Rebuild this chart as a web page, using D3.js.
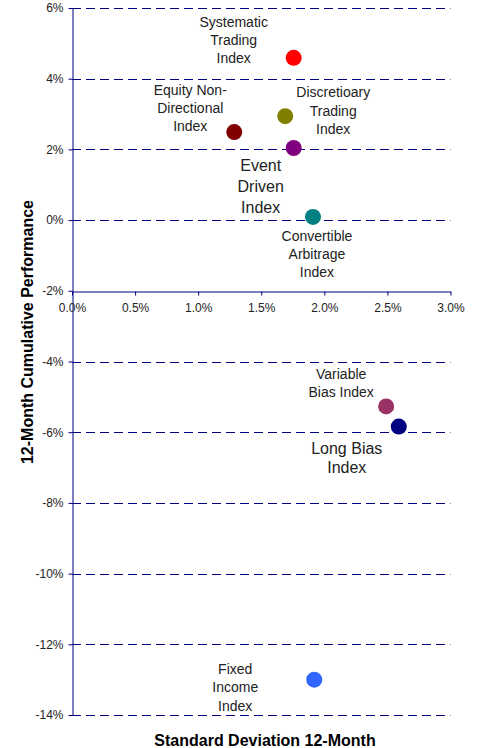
<!DOCTYPE html>
<html>
<head>
<meta charset="utf-8">
<script src="https://cdn.jsdelivr.net/npm/d3@7"></script>
<style>
  html, body { margin: 0; padding: 0; background: #fff; }
  svg { display: block; font-family: "Liberation Sans", Arial, sans-serif; }
</style>
</head>
<body>
<svg id="chart" width="479" height="748"></svg>
<script>
// ---- data ----
const names = [
  ["Systematic", "Trading", "Index"],
  ["Discretioary", "Trading", "Index"],
  ["Equity Non-", "Directional", "Index"],
  ["Event", "Driven", "Index"],
  ["Convertible", "Arbitrage", "Index"],
  ["Variable", "Bias Index"],
  ["Long Bias", "Index"],
  ["Fixed", "Income", "Index"]
];
const stdDev = [0.01757, 0.0169, 0.01286, 0.01757, 0.0191, 0.0249, 0.0259, 0.0192];
const perf = [0.0459, 0.0294, 0.0249, 0.0204, 0.0009, -0.0527, -0.0584, -0.1300];
const colors = ["#FF0000", "#808000", "#800000", "#800080", "#008080", "#993366", "#000080", "#3366FF"];
const yTicks = [-0.14, -0.12, -0.10, -0.08, -0.06, -0.04, -0.02, 0, 0.02, 0.04, 0.06];
const xTicks = [0, 0.005, 0.01, 0.015, 0.02, 0.025, 0.03];

// ---- layout (label placement relative to each point, in px) ----
const labelLayout = [
  { dx: -60, dy: -36, size: 14, lh: 18 },
  { dx: 48, dy: -24, size: 14, lh: 18.5 },
  { dx: -44, dy: -42, size: 14, lh: 18 },
  { dx: -33, dy: 17, size: 16, lh: 21 },
  { dx: 4, dy: 19, size: 14, lh: 18 },
  { dx: -45, dy: -32, size: 14, lh: 18 },
  { dx: -52, dy: 22, size: 16, lh: 19 },
  { dx: -79, dy: -11, size: 14, lh: 18.8 }
];

const svg = d3.select("#chart");
const x = d3.scaleLinear().domain([0, 0.03]).range([72, 450.5]);
const y = d3.scaleLinear().domain([-0.14, 0.06]).range([715, 8]);
const navy = "#000080";
const hy = f => s => f(s).replace("\u2212", "-");

// gridlines
svg.append("g").selectAll("line")
  .data(yTicks.filter(t => Math.abs(t + 0.02) > 1e-9))
  .join("line")
  .attr("x1", x(0)).attr("x2", x(0.03))
  .attr("y1", d => Math.round(y(d)) + 0.5).attr("y2", d => Math.round(y(d)) + 0.5)
  .attr("stroke", navy).attr("stroke-width", 1)
  .attr("stroke-dasharray", "9,5");

// y axis
const yAxis = svg.append("g")
  .attr("transform", `translate(${Math.round(x(0)) + 0.5},0)`)
  .call(d3.axisLeft(y).tickValues(yTicks).tickSize(4).tickSizeOuter(0).tickPadding(5)
    .tickFormat(hy(d3.format(".0%"))));
yAxis.select(".domain").attr("stroke", navy);
yAxis.selectAll(".tick line").attr("stroke", navy);
yAxis.selectAll(".tick text").attr("font-size", 12).attr("fill", "#222")
  .attr("font-family", "Liberation Sans, Arial, sans-serif");

// x axis at -2%
const xAxis = svg.append("g")
  .attr("transform", `translate(0,${Math.round(y(-0.02)) + 0.5})`)
  .call(d3.axisBottom(x).tickValues(xTicks).tickSize(4).tickSizeOuter(0).tickPadding(8)
    .tickFormat(hy(d3.format(".1%"))));
xAxis.select(".domain").attr("stroke", navy);
xAxis.selectAll(".tick line").attr("stroke", navy);
xAxis.selectAll(".tick text").attr("font-size", 12).attr("fill", "#222")
  .attr("font-family", "Liberation Sans, Arial, sans-serif");

// points
const idx = d3.range(names.length);
svg.append("g").selectAll("circle")
  .data(idx).join("circle")
  .attr("cx", i => x(stdDev[i]))
  .attr("cy", i => y(perf[i]))
  .attr("r", 8)
  .attr("fill", i => colors[i]);

// labels
const lg = svg.append("g");
idx.forEach(i => {
  const L = labelLayout[i];
  const cx = x(stdDev[i]) + L.dx;
  const cy = y(perf[i]) + L.dy;
  const t = lg.append("text")
    .attr("text-anchor", "middle")
    .attr("font-size", L.size)
    .attr("fill", "#222");
  names[i].forEach((line, k) => {
    t.append("tspan")
      .attr("x", cx)
      .attr("y", cy + k * L.lh)
      .attr("dy", "0.35em")
      .text(line);
  });
});

// axis titles
svg.append("text")
  .attr("x", 265).attr("y", 746)
  .attr("text-anchor", "middle")
  .attr("font-size", 16).attr("font-weight", "bold").attr("fill", "#000")
  .text("Standard Deviation 12-Month");

svg.append("text")
  .attr("transform", "translate(33,332) rotate(-90)")
  .attr("text-anchor", "middle")
  .attr("font-size", 16).attr("font-weight", "bold").attr("fill", "#000")
  .text("12-Month Cumulative Performance");
</script>
</body>
</html>
